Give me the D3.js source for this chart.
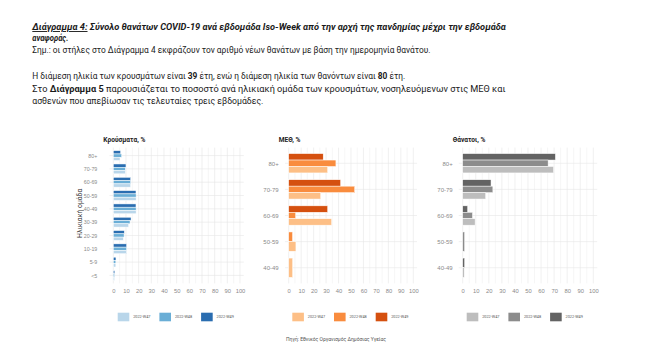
<!DOCTYPE html>
<meta charset="utf-8">
<style>
  body { margin: 0; background: #fff; }
  svg { display: block; }
</style>
<script src="https://d3js.org/d3.v7.min.js"></script>
<div id="chart"></div>
<script>
// age groups
const casesAges = ["80+", "70-79", "60-69", "50-59", "40-49", "30-39", "20-29", "10-19", "5-9", "<5"];
const olderAges = ["80+", "70-79", "60-69", "50-59", "40-49"];
const weeks = ["2022-W47", "2022-W48", "2022-W49"];

// % per age group, one array per week
const casesW47 = [5.3, 9.6, 13.7, 18, 18, 12.1, 7.9, 10.5, 2, 1];
const casesW48 = [6.6, 9.5, 13.7, 18, 18, 13.2, 8.5, 10.5, 2, 1];
const casesW49 = [5.8, 10, 13.7, 17.9, 17.9, 14, 8.7, 10.5, 2.1, 1.2];

const icuW47 = [31.3, 25.7, 34.5, 5.8, 3.2];
const icuW48 = [37.9, 53, 5.6, 3.1, 0];
const icuW49 = [27.7, 41.7, 31.3, 0, 0];

const deathsW47 = [69.6, 17.6, 9.5, 0, 1.2];
const deathsW48 = [65.4, 23.1, 7.5, 1.5, 0];
const deathsW49 = [71, 21.7, 3.8, 0, 1.5];

const xTicks = d3.range(0, 101, 10);

const panels = [
  {title: "Κρούσματα, %", ages: casesAges, series: [casesW47, casesW48, casesW49],
   colors: ["#b9d6ea", "#6aaed6", "#2a6db0"], x0: 113.3, x1: 240, labelFont: 5.3, legendX: 117.7},
  {title: "ΜΕΘ, %", ages: olderAges, series: [icuW47, icuW48, icuW49],
   colors: ["#fdbf86", "#f98c3e", "#d5500f"], x0: 288.7, x1: 413.3, labelFont: 6, legendX: 292.3},
  {title: "Θάνατοι, %", ages: olderAges, series: [deathsW47, deathsW48, deathsW49],
   colors: ["#bdbdbd", "#8c8c8c", "#636363"], x0: 462.7, x1: 593.3, labelFont: 6, legendX: 466.7}
];

const W = 650, H = 348;
const plotTop = 147.6, plotBottom = 283.4;

const svg = d3.select("#chart").append("svg")
    .attr("width", W)
    .attr("height", H)
    .style("font-family", "Roboto, 'Liberation Sans', sans-serif");

// header text
const header = [
  {y: 30, len: 473, parts: [["Διάγραμμα 4:", "bi", true], [" Σύνολο θανάτων COVID-19 ανά εβδομάδα Iso-Week από την αρχή της πανδημίας μέχρι την εβδομάδα", "bi"]]},
  {y: 41, len: 36, parts: [["αναφοράς.", "bi"]]},
  {y: 52.5, len: 398, parts: [["Σημ.: οι στήλες στο Διάγραμμα 4 εκφράζουν τον αριθμό νέων θανάτων με βάση την ημερομηνία θανάτου.", ""]]},
  {y: 79, len: 373, parts: [["Η διάμεση ηλικία των κρουσμάτων είναι ", ""], ["39", "b"], [" έτη, ενώ η διάμεση ηλικία των θανόντων είναι ", ""], ["80", "b"], [" έτη.", ""]]},
  {y: 91.5, len: 473, parts: [["Στο ", ""], ["Διάγραμμα 5", "b"], [" παρουσιάζεται το ποσοστό ανά ηλικιακή ομάδα των κρουσμάτων, νοσηλευόμενων στις ΜΕΘ και", ""]]},
  {y: 104, len: 231, parts: [["ασθενών που απεβίωσαν τις τελευταίες τρεις εβδομάδες.", ""]]}
];

header.forEach(line => {
  const t = svg.append("text")
      .attr("font-size", 9.2)
      .attr("fill", "#1a1a1a");
  line.parts.forEach(p => {
    t.append("tspan")
        .text(p[0])
        .attr("font-weight", p[1].includes("b") ? "bold" : null)
        .attr("font-style", p[1].includes("i") ? "italic" : null)
        .attr("text-decoration", p[2] ? "underline" : null);
  });
  // squeeze the whole line to the width it has in the report
  const natural = t.node().getComputedTextLength();
  t.attr("transform", `translate(32.3,${line.y}) scale(${line.len / natural},1)`);
});

panels.forEach((p, pi) => {
  const g = svg.append("g");
  const x = d3.scaleLinear().domain([0, 100]).range([p.x0, p.x1]);
  const y = d3.scalePoint().domain(p.ages).range([plotTop, plotBottom]).padding(0.6);
  const step = y.step();

  // grid
  g.append("g").selectAll("line")
    .data(d3.range(0, 101, 5))
    .join("line")
      .attr("x1", d => x(d)).attr("x2", d => x(d))
      .attr("y1", plotTop).attr("y2", plotBottom)
      .attr("stroke", d => d % 10 === 0 ? "#e6e6e6" : "#f0f0f0")
      .attr("stroke-width", 0.6);

  g.append("g").selectAll("line")
    .data(p.ages)
    .join("line")
      .attr("x1", x(-3)).attr("x2", x(103))
      .attr("y1", d => y(d)).attr("y2", d => y(d))
      .attr("stroke", "#e6e6e6")
      .attr("stroke-width", 0.6);

  // bars: dodge only the weeks that have a value, latest week on top
  const total = step * 0.74;
  p.ages.forEach((age, i) => {
    const present = [2, 1, 0].filter(k => p.series[k][i] > 0);
    const h = total / present.length;
    present.forEach((k, j) => {
      g.append("rect")
          .attr("x", x(0))
          .attr("y", y(age) - total / 2 + j * h)
          .attr("width", x(p.series[k][i]) - x(0))
          .attr("height", h)
          .attr("fill", p.colors[k])
          .attr("stroke", "#fff")
          .attr("stroke-width", 0.5);
    });
  });

  // axes
  const xAxis = g.append("g")
      .attr("transform", `translate(0,${plotBottom + 2})`)
      .call(d3.axisBottom(x).tickValues(xTicks).tickSize(0).tickPadding(3));
  xAxis.select(".domain").remove();
  xAxis.selectAll("text").attr("fill", "#8a8a8a").attr("font-size", 5.8).attr("font-family", null);

  const yAxis = g.append("g")
      .attr("transform", `translate(${p.x0 - (pi === 0 ? 13 : 7)},0)`)
      .call(d3.axisLeft(y).tickSize(0).tickPadding(3));
  yAxis.select(".domain").remove();
  yAxis.selectAll("text").attr("fill", "#8a8a8a").attr("font-size", p.labelFont).attr("font-family", null);

  // panel title
  svg.append("text")
      .attr("x", p.x0 - 10)
      .attr("y", 142)
      .attr("font-size", 6.6)
      .attr("font-weight", "bold")
      .attr("fill", "#222")
      .text(p.title);

  // legend
  const legend = svg.append("g")
      .attr("transform", `translate(${p.legendX},312.7)`);
  weeks.forEach((w, k) => {
    legend.append("rect")
        .attr("x", k * 41.7).attr("y", 0)
        .attr("width", 11.6).attr("height", 8.6)
        .attr("fill", p.colors[k]);
    legend.append("text")
        .attr("x", k * 41.7 + 15.5).attr("y", 5.7)
        .attr("font-size", 3.8)
        .attr("fill", "#555")
        .text(w);
  });
});

// y axis title
svg.append("text")
    .attr("transform", "translate(81.5,213.3) rotate(-90)")
    .attr("text-anchor", "middle")
    .attr("font-size", 6.8)
    .attr("fill", "#333")
    .text("Ηλικιακή ομάδα");

// source
svg.append("text")
    .attr("x", 336)
    .attr("y", 340.5)
    .attr("text-anchor", "middle")
    .attr("font-size", 5)
    .attr("fill", "#555")
    .text("Πηγή: Εθνικός Οργανισμός Δημόσιας Υγείας");
</script>
